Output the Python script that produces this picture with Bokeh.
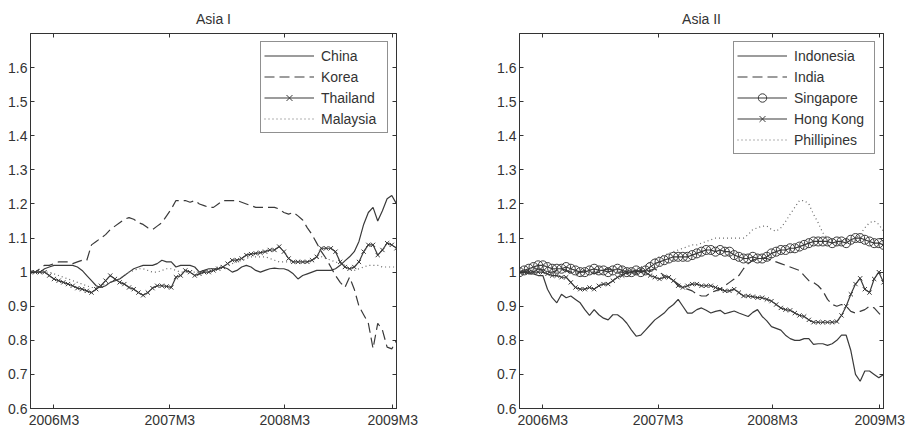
from bokeh.plotting import figure
from bokeh.models import Range1d, FixedTicker, LinearAxis, CustomJSTickFormatter
from bokeh.layouts import row
from bokeh.embed import file_html
from bokeh.resources import INLINE

# ---------------- data (semi-monthly observations, index 0..78) ----------------
x_tick_pos = [5, 29.7, 54.2, 77.2]
x_tick_labels = ["2006M3", "2007M3", "2008M3", "2009M3"]
y_ticks = [0.6, 0.7, 0.8, 0.9, 1.0, 1.1, 1.2, 1.3, 1.4, 1.5, 1.6]
y_tick_labels = ["0.6", "0.7", "0.8", "0.9", "1", "1.1", "1.2", "1.3", "1.4", "1.5", "1.6"]

china = [1.00, 1.00, 1.00, 1.01, 1.015, 1.02, 1.02, 1.02, 1.02, 1.02,
         1.015, 1.005, 0.99, 0.975, 0.96, 0.955, 0.96, 0.97, 0.975, 0.98,
         0.99, 1.0, 1.01, 1.015, 1.02, 1.02, 1.02, 1.025, 1.035, 1.03,
         1.03, 1.015, 1.02, 1.02, 1.02, 1.015, 1.0, 1.005, 1.01, 1.01,
         1.01, 1.015, 1.01, 1.0, 1.005, 1.015, 1.02, 1.015, 1.005, 1.0,
         1.005, 1.01, 1.012, 1.01, 1.01, 1.005, 0.995, 0.98, 0.99, 0.995,
         1.0, 1.005, 1.005, 1.005, 1.005, 1.01, 1.02, 1.033, 1.045, 1.06,
         1.09, 1.14, 1.175, 1.19, 1.15, 1.18, 1.215, 1.225, 1.2]
korea = [1.00, 1.00, 1.01, 1.02, 1.02, 1.025, 1.03, 1.03, 1.03, 1.025,
         1.03, 1.035, 1.035, 1.08, 1.09, 1.10, 1.11, 1.125, 1.135, 1.145,
         1.155, 1.16, 1.155, 1.145, 1.14, 1.13, 1.125, 1.135, 1.145, 1.165,
         1.185, 1.21, 1.21, 1.21, 1.205, 1.21, 1.20, 1.195, 1.19, 1.19,
         1.20, 1.21, 1.21, 1.21, 1.21, 1.205, 1.20, 1.195, 1.19, 1.19,
         1.19, 1.19, 1.19, 1.185, 1.175, 1.17, 1.175, 1.165, 1.153, 1.13,
         1.11, 1.085, 1.06, 1.04, 1.015, 0.99, 0.97, 0.955, 0.985, 0.95,
         0.90, 0.875, 0.85, 0.776, 0.85, 0.83, 0.78, 0.775, 0.80]
thailand = [1.0, 1.0, 1.0, 1.0, 0.99, 0.98, 0.975, 0.97, 0.965, 0.96,
            0.953, 0.95, 0.945, 0.94, 0.95, 0.96, 0.975, 0.99, 0.98, 0.97,
            0.965, 0.955, 0.95, 0.94, 0.932, 0.94, 0.953, 0.96, 0.96, 0.958,
            0.955, 0.985, 0.99, 1.005, 1.0, 0.99, 0.995, 1.0, 1.0, 1.005,
            1.01, 1.015, 1.025, 1.035, 1.035, 1.04, 1.05, 1.053, 1.055, 1.057,
            1.06, 1.065, 1.065, 1.075, 1.06, 1.04, 1.03, 1.03, 1.03, 1.03,
            1.035, 1.045, 1.07, 1.07, 1.07, 1.06, 1.03, 1.015, 1.01, 1.015,
            1.03, 1.06, 1.08, 1.08, 1.05, 1.065, 1.085, 1.08, 1.07]
malaysia = [1.0, 1.0, 1.0, 1.0, 1.0, 0.995, 0.99, 0.985, 0.98, 0.975,
            0.97, 0.965, 0.96, 0.955, 0.955, 0.96, 0.965, 0.97, 0.975, 0.98,
            0.99, 1.0, 1.005, 1.01, 1.01, 1.005, 1.0, 1.0, 1.005, 1.01,
            1.01, 1.005, 1.0, 1.0, 1.0, 1.0, 1.0, 1.005, 1.005, 1.01,
            1.015, 1.02, 1.02, 1.025, 1.03, 1.035, 1.04, 1.045, 1.045, 1.045,
            1.045, 1.04, 1.035, 1.03, 1.03, 1.03, 1.03, 1.03, 1.03, 1.03,
            1.035, 1.04, 1.045, 1.04, 1.035, 1.03, 1.025, 1.02, 1.01, 1.005,
            1.01, 1.015, 1.02, 1.02, 1.02, 1.015, 1.015, 1.015, 1.015]

indonesia = [1.0, 1.0, 0.995, 0.995, 0.99, 0.99, 0.95, 0.925, 0.91, 0.935,
             0.925, 0.93, 0.92, 0.91, 0.89, 0.873, 0.89, 0.875, 0.865, 0.86,
             0.875, 0.875, 0.865, 0.85, 0.83, 0.812, 0.815, 0.83, 0.845, 0.86,
             0.87, 0.88, 0.895, 0.905, 0.92, 0.9, 0.88, 0.88, 0.89, 0.895,
             0.888, 0.88, 0.885, 0.888, 0.878, 0.882, 0.886, 0.88, 0.875, 0.87,
             0.882, 0.89, 0.87, 0.857, 0.84, 0.835, 0.83, 0.815, 0.805, 0.8,
             0.8, 0.805, 0.805, 0.788, 0.79, 0.79, 0.785, 0.79, 0.8, 0.815,
             0.815, 0.77, 0.7, 0.68, 0.71, 0.71, 0.7, 0.69, 0.7]
india = [1.0, 1.0, 1.005, 1.01, 1.01, 1.005, 1.0, 1.0, 1.005, 1.01,
         1.005, 1.0, 0.995, 1.0, 1.005, 1.0, 0.995, 1.0, 1.005, 1.01,
         1.005, 1.0, 1.0, 0.995, 1.0, 1.005, 1.0, 1.0, 1.005, 1.01,
         1.0, 0.99, 0.985, 0.975, 0.965, 0.955, 0.95, 0.945, 0.935, 0.93,
         0.93, 0.94, 0.945, 0.95, 0.96, 0.97, 0.98, 0.99, 1.01, 1.025,
         1.035, 1.04, 1.04, 1.04, 1.035, 1.03, 1.025, 1.02, 1.015, 1.01,
         1.005, 0.99, 0.975, 0.97, 0.96, 0.945, 0.92, 0.905, 0.9, 0.905,
         0.9, 0.885, 0.88, 0.885, 0.89, 0.9, 0.895, 0.88, 0.865]
singapore = [1.0, 1.005, 1.01, 1.015, 1.02, 1.02, 1.015, 1.01, 1.01, 1.01,
             1.015, 1.01, 1.005, 1.0, 1.0, 1.005, 1.01, 1.005, 1.005, 1.0,
             1.005, 1.01, 1.005, 1.0, 1.0, 1.005, 1.0, 1.005, 1.015, 1.025,
             1.03, 1.035, 1.04, 1.045, 1.045, 1.045, 1.045, 1.05, 1.055, 1.06,
             1.065, 1.065, 1.06, 1.065, 1.06, 1.06, 1.05, 1.045, 1.04, 1.04,
             1.045, 1.04, 1.04, 1.045, 1.055, 1.06, 1.065, 1.065, 1.07, 1.07,
             1.075, 1.08, 1.085, 1.09, 1.09, 1.09, 1.09, 1.085, 1.09, 1.09,
             1.085, 1.095, 1.1, 1.1, 1.095, 1.09, 1.085, 1.085, 1.08]
hongkong = [1.0, 1.0, 1.0, 1.0, 1.0, 1.0, 0.995, 0.99, 0.99, 0.985,
            0.985, 0.97, 0.955, 0.95, 0.95, 0.955, 0.95, 0.96, 0.965, 0.965,
            0.975, 0.985, 0.99, 1.0, 1.0, 1.0, 1.005, 1.0, 0.99, 0.985,
            0.98, 0.985, 0.985, 0.975, 0.96, 0.955, 0.96, 0.965, 0.965, 0.96,
            0.96, 0.96, 0.955, 0.95, 0.945, 0.945, 0.95, 0.94, 0.93, 0.93,
            0.928, 0.925, 0.925, 0.92, 0.915, 0.905, 0.895, 0.89, 0.888, 0.88,
            0.873, 0.87, 0.86, 0.853, 0.853, 0.853, 0.853, 0.853, 0.855, 0.873,
            0.9, 0.935, 0.965, 0.982, 0.95, 0.94, 0.98, 1.0, 0.97]
philippines = [1.0, 1.005, 1.01, 1.01, 1.015, 1.02, 1.015, 1.01, 1.005, 1.005,
               1.0, 0.995, 0.99, 0.99, 0.995, 1.0, 1.0, 1.005, 1.0, 1.0,
               1.005, 1.01, 1.015, 1.01, 1.005, 1.01, 1.015, 1.02, 1.03, 1.04,
               1.045, 1.05, 1.055, 1.06, 1.065, 1.07, 1.075, 1.08, 1.08, 1.085,
               1.09, 1.095, 1.1, 1.1, 1.1, 1.1, 1.1, 1.1, 1.1, 1.11,
               1.125, 1.13, 1.135, 1.135, 1.125, 1.12, 1.13, 1.148, 1.17, 1.19,
               1.21, 1.21, 1.2, 1.17, 1.145, 1.115, 1.1, 1.09, 1.085, 1.085,
               1.09, 1.09, 1.1, 1.11, 1.13, 1.145, 1.15, 1.14, 1.12]

FONT = "Liberation Sans"
INK = "#333333"
LINE = "#3a3a3a"


def make_fig(title, width, bl, br):
    p = figure(width=width, height=430, title=title,
               x_range=Range1d(0, len(china) - 1), y_range=Range1d(0.6, 1.7),
               output_backend="svg", toolbar_location=None,
               min_border_left=bl, min_border_right=br,
               min_border_top=33, min_border_bottom=22)
    p.title.align = "center"
    p.title.text_font = FONT
    p.title.text_font_style = "normal"
    p.title.text_font_size = "14px"
    p.title.text_color = INK
    p.title.standoff = 13
    p.xgrid.visible = False
    p.ygrid.visible = False
    p.outline_line_color = INK
    p.outline_line_alpha = 1

    p.xaxis.ticker = FixedTicker(ticks=x_tick_pos)
    p.xaxis.major_label_overrides = dict(zip(x_tick_pos, x_tick_labels))
    p.yaxis.ticker = FixedTicker(ticks=y_ticks)
    p.yaxis.major_label_overrides = dict(zip(y_ticks, y_tick_labels))
    for ax in (p.xaxis[0], p.yaxis[0]):
        ax.major_tick_in = 4
        ax.major_tick_out = 0
        ax.minor_tick_line_color = None
        ax.axis_line_color = INK
        ax.major_tick_line_color = INK
        ax.major_label_text_font = FONT
        ax.major_label_text_font_size = "14px"
        ax.major_label_text_color = INK
        ax.major_label_standoff = 3

    blank = CustomJSTickFormatter(code="return ''")
    top = LinearAxis(ticker=FixedTicker(ticks=x_tick_pos), formatter=blank,
                     major_tick_in=4, major_tick_out=0, major_label_standoff=0,
                     major_label_text_font_size="1px",
                     axis_line_color=INK, major_tick_line_color=INK)
    right = LinearAxis(ticker=FixedTicker(ticks=y_ticks), formatter=blank,
                       major_tick_in=4, major_tick_out=0, major_label_standoff=0,
                       major_label_text_font_size="1px",
                       axis_line_color=INK, major_tick_line_color=INK)
    p.add_layout(top, "above")
    p.add_layout(right, "right")
    return p


idx = list(range(len(china)))

# ---------------- Asia I ----------------
p1 = make_fig("Asia I", 455, 30, 59)
p1.line(idx, china, line_color=LINE, line_width=1.2, legend_label="China")
p1.line(idx, korea, line_color=LINE, line_width=1.2, line_dash="10 5", legend_label="Korea")
p1.line(idx, thailand, line_color=LINE, line_width=1.2, legend_label="Thailand")
p1.scatter(idx, thailand, marker="x", size=6, line_color=LINE, line_width=1, legend_label="Thailand")
p1.line(idx, malaysia, line_color="#666666", line_width=1.2, line_dash="1 3", legend_label="Malaysia")

# ---------------- Asia II ----------------
p2 = make_fig("Asia II", 455, 64, 27)
p2.line(idx, indonesia, line_color=LINE, line_width=1.2, legend_label="Indonesia")
p2.line(idx, india, line_color=LINE, line_width=1.2, line_dash="10 5", legend_label="India")
p2.line(idx, singapore, line_color=LINE, line_width=1.2, legend_label="Singapore")
p2.scatter(idx, singapore, marker="circle", size=9, fill_color=None, line_color=LINE,
           line_width=1, legend_label="Singapore")
p2.line(idx, hongkong, line_color=LINE, line_width=1.2, legend_label="Hong Kong")
p2.scatter(idx, hongkong, marker="x", size=6, line_color=LINE, line_width=1, legend_label="Hong Kong")
p2.line(idx, philippines, line_color="#666666", line_width=1.2, line_dash="1 3",
        legend_label="Phillipines")

for p, lw in ((p1, 63), (p2, 77)):
    lg = p.legend[0]
    lg.location = "top_right"
    lg.margin = 8
    lg.padding = 3
    lg.spacing = 0
    lg.label_height = 21
    lg.label_width = lw
    lg.glyph_height = 21
    lg.glyph_width = 50
    lg.label_standoff = 7
    lg.label_text_font = FONT
    lg.label_text_font_size = "14px"
    lg.label_text_color = INK
    lg.border_line_color = "#222222"
    lg.border_line_width = 1.3
    lg.background_fill_alpha = 1

layout = row(p1, p2)
open("out.html", "w").write(file_html(layout, INLINE))
